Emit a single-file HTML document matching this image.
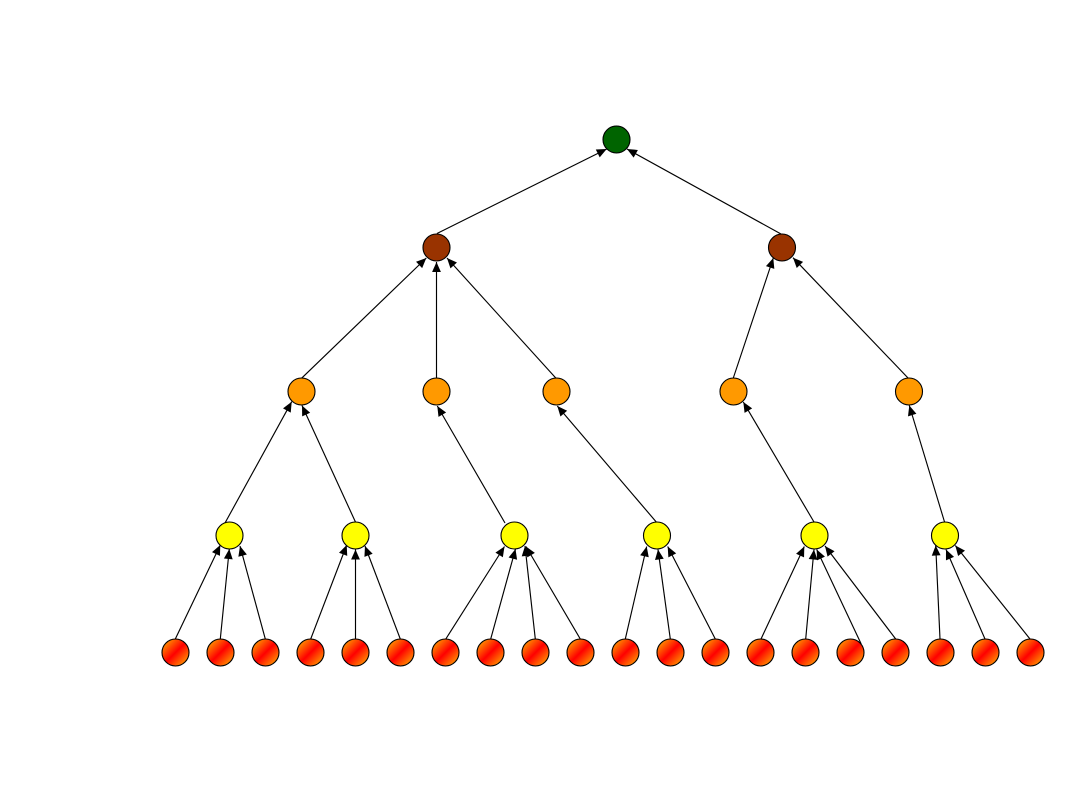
<!DOCTYPE html>
<html>
<head>
<meta charset="utf-8">
<style>
html,body{margin:0;padding:0;background:#fff}
svg{display:block}
line{stroke:#000;stroke-width:1.15;marker-end:url(#a)}
circle{stroke:#000;stroke-width:1.1}
.g{fill:#006400}.b{fill:#993300}.o{fill:#ff9900}.y{fill:#ffff00}.l{fill:url(#lg)}
</style>
</head>
<body>
<svg width="1080" height="810" viewBox="0 0 1080 810" xmlns="http://www.w3.org/2000/svg">
<defs>
<linearGradient id="lg" x1="0.1" y1="0.1" x2="0.9" y2="0.9">
<stop offset="0" stop-color="#ff9900"/><stop offset="0.5" stop-color="#ff0000"/><stop offset="1" stop-color="#ff9900"/>
</linearGradient>
<marker id="a" markerUnits="userSpaceOnUse" viewBox="0 -5 11 10" markerWidth="11" markerHeight="10" refX="10" refY="0" orient="auto" overflow="visible">
<polygon points="0,-4.4 10,0 0,4.4" fill="#000"/>
</marker>
</defs>
<!-- level 1 to root -->
<line x1="437" y1="233.5" x2="606.7" y2="149"/>
<line x1="781" y1="234" x2="627" y2="149"/>
<!-- level 2 to level 1 -->
<line x1="301.5" y1="378.3" x2="426.3" y2="258"/>
<line x1="436.5" y1="378.3" x2="436.5" y2="262"/>
<line x1="556" y1="378.3" x2="447" y2="258"/>
<line x1="733.3" y1="378" x2="773.3" y2="258"/>
<line x1="908.5" y1="378.5" x2="793" y2="257.7"/>
<!-- level 3 to level 2 -->
<line x1="225" y1="523" x2="291.7" y2="401.7"/>
<line x1="355.7" y1="522.5" x2="302" y2="405.5"/>
<line x1="505" y1="523" x2="437.3" y2="406"/>
<line x1="656.7" y1="522.5" x2="557.3" y2="406"/>
<line x1="814.3" y1="522.5" x2="743.3" y2="402"/>
<line x1="944.7" y1="522.5" x2="909.3" y2="405.5"/>
<!-- leaves to level 3 -->
<line x1="175.3" y1="639" x2="220.3" y2="545"/>
<line x1="220.3" y1="639" x2="229.3" y2="549"/>
<line x1="265.3" y1="639" x2="240" y2="546"/>
<line x1="310.7" y1="639" x2="346.7" y2="545"/>
<line x1="355.5" y1="639" x2="355.5" y2="549.5"/>
<line x1="400.3" y1="639" x2="365" y2="546"/>
<line x1="445.8" y1="639" x2="504.5" y2="546.5"/>
<line x1="490.7" y1="639" x2="515.5" y2="549"/>
<line x1="535.3" y1="639" x2="525" y2="546"/>
<line x1="580.3" y1="639" x2="526" y2="546.5"/>
<line x1="625.3" y1="639" x2="646.7" y2="546.5"/>
<line x1="670.3" y1="639" x2="658" y2="549.5"/>
<line x1="715.3" y1="639" x2="667.7" y2="546.5"/>
<line x1="761" y1="639" x2="804.3" y2="546.5"/>
<line x1="805.7" y1="639" x2="814" y2="549.5"/>
<line x1="861.2" y1="644" x2="816.7" y2="549.5"/>
<line x1="895.7" y1="639" x2="825" y2="546"/>
<line x1="940" y1="639" x2="935.7" y2="545.5"/>
<line x1="985" y1="639" x2="946" y2="549.5"/>
<line x1="1030" y1="639" x2="955.3" y2="545.5"/>
<!-- nodes -->
<circle class="g" cx="616.5" cy="139.5" r="13.5"/>
<circle class="b" cx="436.5" cy="247.5" r="13.5"/>
<circle class="b" cx="782" cy="247.5" r="13.5"/>
<circle class="o" cx="301.5" cy="391.5" r="13.5"/>
<circle class="o" cx="436.5" cy="391.5" r="13.5"/>
<circle class="o" cx="556.5" cy="391.5" r="13.5"/>
<circle class="o" cx="733.5" cy="391.5" r="13.5"/>
<circle class="o" cx="909" cy="391.5" r="13.5"/>
<circle class="y" cx="229.5" cy="535.5" r="13.5"/>
<circle class="y" cx="355.5" cy="535.5" r="13.5"/>
<circle class="y" cx="514.5" cy="535.5" r="13.5"/>
<circle class="y" cx="657" cy="535.5" r="13.5"/>
<circle class="y" cx="814.5" cy="535.5" r="13.5"/>
<circle class="y" cx="945" cy="535.5" r="13.5"/>
<circle class="l" cx="175.5" cy="652.5" r="13.5"/>
<circle class="l" cx="220.5" cy="652.5" r="13.5"/>
<circle class="l" cx="265.5" cy="652.5" r="13.5"/>
<circle class="l" cx="310.5" cy="652.5" r="13.5"/>
<circle class="l" cx="355.5" cy="652.5" r="13.5"/>
<circle class="l" cx="400.5" cy="652.5" r="13.5"/>
<circle class="l" cx="445.5" cy="652.5" r="13.5"/>
<circle class="l" cx="490.5" cy="652.5" r="13.5"/>
<circle class="l" cx="535.5" cy="652.5" r="13.5"/>
<circle class="l" cx="580.5" cy="652.5" r="13.5"/>
<circle class="l" cx="625.5" cy="652.5" r="13.5"/>
<circle class="l" cx="670.5" cy="652.5" r="13.5"/>
<circle class="l" cx="715.5" cy="652.5" r="13.5"/>
<circle class="l" cx="760.5" cy="652.5" r="13.5"/>
<circle class="l" cx="805.5" cy="652.5" r="13.5"/>
<circle class="l" cx="850.5" cy="652.5" r="13.5"/>
<circle class="l" cx="895.5" cy="652.5" r="13.5"/>
<circle class="l" cx="940.5" cy="652.5" r="13.5"/>
<circle class="l" cx="985.5" cy="652.5" r="13.5"/>
<circle class="l" cx="1030.5" cy="652.5" r="13.5"/>
</svg>
</body>
</html>
